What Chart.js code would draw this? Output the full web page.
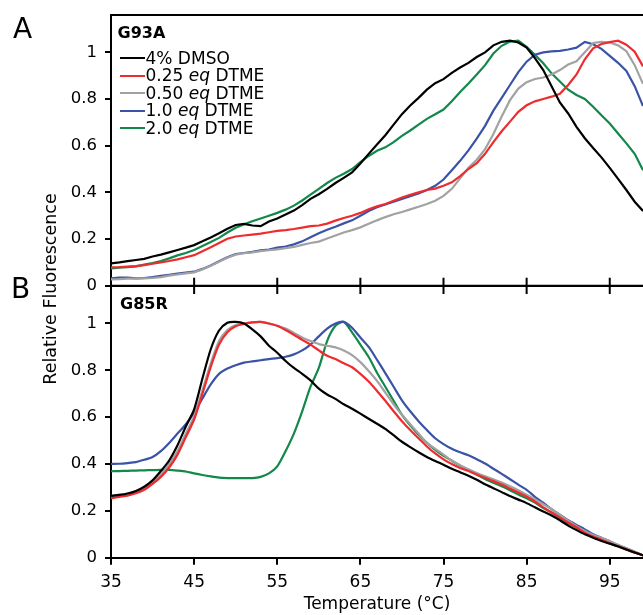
<!DOCTYPE html>
<html>
<head>
<meta charset="utf-8">
<script src="https://cdn.jsdelivr.net/npm/chart.js@4.4.1/dist/chart.umd.min.js"></script>
<style>
html,body{margin:0;padding:0;background:#fff;width:643px;height:615px;overflow:hidden;}
body{position:relative;font-family:"DejaVu Sans",sans-serif;color:#000;}
canvas{position:absolute;left:0;}
#cA{top:0;}
#cB{top:280px;}
.t{position:absolute;white-space:nowrap;line-height:1;}
.sw{position:absolute;height:2px;width:25px;}
</style>
</head>
<body>
<canvas id="cA" width="643" height="300"></canvas>
<canvas id="cB" width="643" height="335"></canvas>
<div id="ann"></div>
<script>
// ---------- data ----------
const temps = [35,36,37,38,39,40,41,42,43,44,45,46,47,48,49,50,51,52,53,54,55,56,57,58,59,60,61,62,63,64,65,66,67,68,69,70,71,72,73,74,75,76,77,78,79,80,81,82,83,84,85,86,87,88,89,90,91,92,93,94,95,96,97,98,99];

const seriesLabels = ['4% DMSO', '0.25 <i>eq</i> DTME', '0.50 <i>eq</i> DTME', '1.0 <i>eq</i> DTME', '2.0 <i>eq</i> DTME'];
const seriesColors = ['#000000', '#ee2b2e', '#a2a2a2', '#3a53a6', '#12884a'];

const panelNames = ['G93A', 'G85R'];
const panelLetters = ['A', 'B'];

// Panel A (G93A)
const dmsoA = [0.096,0.100,0.105,0.110,0.115,0.125,0.133,0.143,0.153,0.163,
0.174,0.190,0.207,0.225,0.244,0.260,0.265,0.258,0.255,0.275,
0.288,0.305,0.322,0.345,0.372,0.392,0.415,0.440,0.462,0.485,
0.524,0.565,0.605,0.645,0.690,0.735,0.772,0.805,0.840,0.868,
0.885,0.912,0.935,0.955,0.980,1.000,1.030,1.045,1.050,1.042,
1.020,0.975,0.924,0.855,0.785,0.738,0.681,0.632,0.590,0.550,
0.505,0.458,0.410,0.360,0.320];
const eq025A = [0.079,0.080,0.082,0.084,0.088,0.094,0.100,0.106,0.113,0.122,
0.131,0.148,0.165,0.183,0.201,0.211,0.215,0.219,0.223,0.229,
0.235,0.238,0.243,0.249,0.255,0.258,0.266,0.279,0.290,0.300,
0.312,0.328,0.340,0.350,0.364,0.378,0.390,0.400,0.410,0.416,
0.428,0.443,0.470,0.500,0.525,0.565,0.615,0.662,0.703,0.745,
0.773,0.790,0.800,0.810,0.822,0.860,0.905,0.970,1.017,1.036,
1.044,1.050,1.033,1.003,0.940];
const eq050A = [0.027,0.028,0.030,0.030,0.031,0.033,0.037,0.043,0.048,0.053,
0.057,0.070,0.085,0.103,0.120,0.133,0.139,0.143,0.148,0.152,
0.156,0.161,0.166,0.175,0.183,0.189,0.202,0.215,0.228,0.238,
0.250,0.265,0.280,0.294,0.306,0.316,0.327,0.338,0.350,0.364,
0.385,0.415,0.460,0.505,0.540,0.585,0.650,0.725,0.795,0.845,
0.872,0.886,0.892,0.905,0.924,0.948,0.962,1.000,1.040,1.045,
1.042,1.030,1.005,0.945,0.865];
const eq10A = [0.031,0.035,0.035,0.031,0.033,0.037,0.042,0.047,0.052,0.056,
0.060,0.072,0.087,0.105,0.122,0.136,0.140,0.145,0.151,0.155,
0.163,0.168,0.177,0.190,0.208,0.225,0.240,0.253,0.267,0.280,
0.300,0.320,0.336,0.348,0.360,0.372,0.383,0.395,0.410,0.428,
0.455,0.495,0.535,0.580,0.630,0.685,0.750,0.805,0.860,0.915,
0.960,0.990,1.000,1.004,1.006,1.012,1.020,1.045,1.035,1.015,
0.985,0.955,0.920,0.855,0.770];
const eq20A = [0.074,0.077,0.080,0.083,0.090,0.097,0.106,0.117,0.130,0.140,
0.153,0.170,0.187,0.205,0.228,0.248,0.263,0.276,0.288,0.300,
0.312,0.326,0.343,0.365,0.390,0.415,0.440,0.462,0.480,0.500,
0.530,0.556,0.578,0.593,0.615,0.642,0.665,0.690,0.715,0.735,
0.755,0.790,0.830,0.866,0.905,0.945,0.995,1.028,1.046,1.050,
1.024,0.990,0.953,0.910,0.875,0.840,0.817,0.800,0.767,0.730,
0.695,0.652,0.610,0.565,0.495];

// Panel B (G85R)
const dmsoB = [0.264,0.268,0.274,0.285,0.303,0.330,0.370,0.415,0.480,0.560,
0.633,0.765,0.890,0.970,1.003,1.007,1.000,0.975,0.945,0.905,
0.875,0.840,0.810,0.785,0.757,0.722,0.697,0.678,0.655,0.636,
0.615,0.593,0.572,0.550,0.523,0.495,0.472,0.450,0.430,0.413,
0.397,0.380,0.365,0.350,0.333,0.314,0.297,0.280,0.263,0.248,
0.233,0.215,0.197,0.180,0.160,0.137,0.118,0.100,0.085,0.071,
0.060,0.049,0.035,0.022,0.010];
const eq025B = [0.254,0.260,0.265,0.275,0.290,0.315,0.345,0.385,0.440,0.515,
0.590,0.700,0.815,0.910,0.963,0.988,0.998,1.005,1.007,1.000,
0.990,0.972,0.952,0.930,0.910,0.885,0.862,0.848,0.830,0.813,
0.785,0.752,0.712,0.670,0.625,0.583,0.545,0.510,0.475,0.445,
0.420,0.400,0.383,0.370,0.355,0.341,0.327,0.312,0.295,0.278,
0.260,0.240,0.215,0.193,0.172,0.150,0.130,0.107,0.090,0.077,
0.062,0.048,0.035,0.022,0.010];
const eq050B = [0.264,0.268,0.274,0.283,0.298,0.322,0.355,0.400,0.455,0.530,
0.604,0.715,0.830,0.925,0.972,0.993,1.000,1.005,1.007,1.000,
0.990,0.978,0.960,0.940,0.925,0.912,0.905,0.898,0.885,0.865,
0.835,0.797,0.755,0.705,0.655,0.610,0.570,0.530,0.490,0.465,
0.440,0.415,0.395,0.378,0.362,0.348,0.335,0.321,0.305,0.288,
0.269,0.250,0.228,0.207,0.183,0.158,0.135,0.114,0.097,0.085,
0.070,0.055,0.040,0.025,0.010];
const eq10B = [0.400,0.401,0.404,0.408,0.418,0.430,0.455,0.490,0.530,0.570,
0.619,0.680,0.740,0.785,0.808,0.822,0.833,0.838,0.843,0.848,
0.852,0.858,0.868,0.885,0.910,0.945,0.978,1.000,1.007,0.982,
0.940,0.900,0.845,0.788,0.730,0.672,0.625,0.583,0.545,0.510,
0.485,0.465,0.450,0.437,0.420,0.402,0.380,0.358,0.335,0.312,
0.290,0.260,0.235,0.207,0.183,0.160,0.140,0.121,0.100,0.085,
0.070,0.053,0.040,0.025,0.010];
const eq20B = [0.369,0.370,0.371,0.372,0.373,0.374,0.375,0.375,0.372,0.368,
0.360,0.353,0.347,0.342,0.340,0.340,0.340,0.340,0.345,0.360,
0.390,0.455,0.530,0.625,0.730,0.810,0.925,0.990,1.006,0.962,
0.910,0.857,0.790,0.730,0.670,0.610,0.565,0.525,0.490,0.460,
0.435,0.414,0.393,0.373,0.355,0.336,0.320,0.305,0.288,0.270,
0.254,0.235,0.212,0.193,0.170,0.147,0.128,0.107,0.090,0.078,
0.062,0.048,0.035,0.022,0.010];

const xTickValues = [35,45,55,65,75,85,95];
const xTickLabels = ['35','45','55','65','75','85','95'];
const yTickValues = [0,0.2,0.4,0.6,0.8,1];
const yTickLabels = ['0','0.2','0.4','0.6','0.8','1'];
const xTitle = 'Temperature (\u00B0C)';
const yTitle = 'Relative Fluorescence';

const panelA = [dmsoA, eq025A, eq050A, eq10A, eq20A];
const panelB = [dmsoB, eq025B, eq050B, eq10B, eq20B];

// ---------- chart setup ----------
Chart.defaults.font.family = '"DejaVu Sans", sans-serif';
Chart.defaults.color = '#000';

function makeDatasets(panel, tension) {
  return panel.map((vals, i) => ({
    label: seriesLabels[i].replace(/<\/?i>/g, ''),
    data: temps.map((t, j) => ({x: t, y: vals[j]})),
    borderColor: seriesColors[i],
    borderWidth: 2.2,
    pointRadius: 0,
    tension: tension,
    fill: false
  }));
}

const framePlugin = {
  id: 'frame',
  afterDatasetsDraw(chart, args, opts) {
    const ctx = chart.ctx, a = chart.chartArea, xs = chart.scales.x;
    ctx.save();
    ctx.strokeStyle = '#000';
    ctx.lineWidth = 2;
    ctx.lineCap = 'butt';
    ctx.beginPath();
    if (opts.top) { ctx.moveTo(a.left - 1, a.top); ctx.lineTo(a.right + 2, a.top); }
    if (opts.bottom) { ctx.moveTo(a.left - 1, a.bottom); ctx.lineTo(a.right + 2, a.bottom); }
    const y0 = opts.tickEdge === 'bottom' ? a.bottom : a.top;
    const dir = opts.tickEdge === 'bottom' ? -1 : 1;
    xTickValues.forEach(v => {
      const px = xs.getPixelForValue(v);
      if (px > a.left + 2) { ctx.moveTo(px, y0); ctx.lineTo(px, y0 + dir * 8); }
    });
    ctx.stroke();
    ctx.restore();
  }
};

function yScale() {
  return {
    type: 'linear', min: 0, max: 1.16,
    afterBuildTicks: s => { s.ticks = yTickValues.map(v => ({value: v})); },
    afterFit: s => { s.width = 111; s.paddingTop = 0; s.paddingBottom = 0; },
    ticks: { font: {size: 16.5}, color: '#000', padding: 8,
      callback: (v, i) => yTickLabels[i] },
    grid: { drawOnChartArea: false, drawTicks: true, tickLength: 6, lineWidth: 2, color: '#000', tickColor: '#000' },
    border: { display: true, color: '#000', width: 2 }
  };
}

const common = {
  responsive: false,
  animation: false,
  devicePixelRatio: 1,
  events: [],
  plugins: { legend: {display: false}, tooltip: {enabled: false} }
};

new Chart(document.getElementById('cA'), {
  type: 'line',
  data: { datasets: makeDatasets(panelA, 0) },
  options: Object.assign({}, common, {
    layout: { padding: {top: 15, bottom: 14.3, left: 0, right: 0} },
    plugins: Object.assign({}, common.plugins, { frame: {top: true, bottom: true, tickEdge: 'bottom'} }),
    scales: {
      x: { type: 'linear', min: 35, max: 99, display: false,
           afterBuildTicks: s => { s.ticks = xTickValues.map(v => ({value: v})); } },
      y: yScale()
    }
  }),
  plugins: [framePlugin]
});

new Chart(document.getElementById('cB'), {
  type: 'line',
  data: { datasets: makeDatasets(panelB, 0.25) },
  options: Object.assign({}, common, {
    layout: { padding: {top: 6, bottom: 0, left: 0, right: 0} },
    plugins: Object.assign({}, common.plugins, { frame: {top: true, bottom: false, tickEdge: 'top'} }),
    scales: {
      x: { type: 'linear', min: 35, max: 99,
           afterBuildTicks: s => { s.ticks = xTickValues.map(v => ({value: v})); },
           afterFit: s => { s.height = 57.3; s.paddingLeft = 0; s.paddingRight = 0; },
           ticks: { font: {size: 17}, color: '#000', padding: 8, maxRotation: 0,
             callback: (v, i) => xTickLabels[i] },
           grid: { drawOnChartArea: false, drawTicks: true, tickLength: 7, lineWidth: 2, color: '#000', tickColor: '#000' },
           border: { display: true, color: '#000', width: 2 },
           title: { display: true, text: xTitle, font: {size: 17}, color: '#000', padding: {top: 0, bottom: 0} }
      },
      y: yScale()
    }
  }),
  plugins: [framePlugin]
});

// ---------- annotations (real text) ----------
const ann = document.getElementById('ann');
function addText(html, left, top, size, extra) {
  const d = document.createElement('div');
  d.className = 't';
  d.style.left = left + 'px';
  d.style.top = top + 'px';
  d.style.fontSize = size + 'px';
  if (extra) d.style.cssText += extra;
  d.innerHTML = html;
  ann.appendChild(d);
  return d;
}
addText(panelLetters[0], 13, 14.6, 28);
addText(panelLetters[1], 11, 274.6, 28);
addText(panelNames[0], 117.5, 25, 16, 'font-weight:bold;');
addText(panelNames[1], 120, 295.8, 16, 'font-weight:bold;');

const legendBaselines = [64, 81.7, 99, 116.7, 134];
seriesLabels.forEach((lab, i) => {
  const sw = document.createElement('div');
  sw.className = 'sw';
  sw.style.left = '120px';
  sw.style.top = (legendBaselines[i] - 6.8) + 'px';
  sw.style.background = seriesColors[i];
  ann.appendChild(sw);
  addText(lab, 145.5, legendBaselines[i] - 14.4, 17);
});

addText(yTitle, 50.5, 289, 17.5, 'transform:translate(-50%,-50%) rotate(-90deg);');
</script>
</body>
</html>
